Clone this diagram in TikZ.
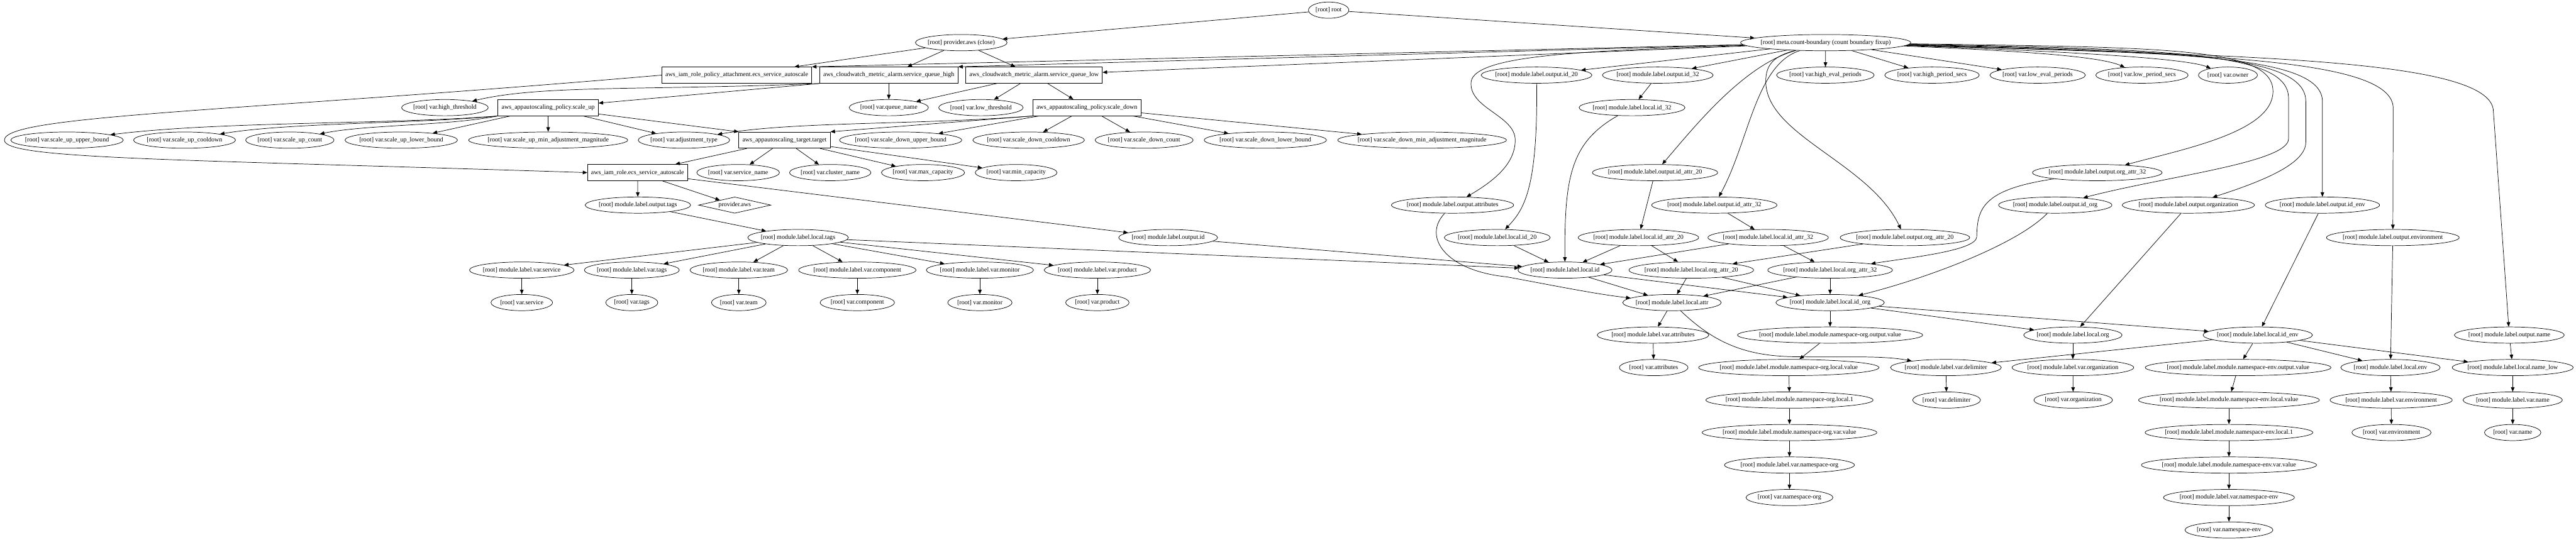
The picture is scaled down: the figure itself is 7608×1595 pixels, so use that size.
\documentclass[tikz,border=0pt]{standalone}
\usepackage{fontspec}
\setmainfont{Liberation Serif}
\usetikzlibrary{arrows.meta,shapes.geometric}
\newlength\gvW
\font\gvraw="Liberation Serif" at 14pt
\newcommand\gvfont{\fontsize{14}{16}\selectfont}
\newcommand\mkE[3]{%
  \settowidth{\gvW}{\gvraw #3}%
  \pgfmathsetlengthmacro\gvWW{1.25*\gvW+17pt}%
  \node[ell,minimum width=\gvWW] (#1) at (#2) {\makebox[0pt]{#3}};}
\tikzset{
  ell/.style={draw,ellipse,line width=1pt,inner sep=0pt,minimum height=36pt,font=\gvfont},
  bx/.style={draw,rectangle,line width=1pt,inner xsep=8pt,inner ysep=0pt,minimum height=36pt,font=\gvfont},
  dia/.style={draw,diamond,line width=1pt,inner sep=0pt,minimum width=160pt,minimum height=36pt,font=\gvfont},
  ed/.style={-{Triangle[length=10pt,width=8pt]},line width=1pt}}
\begin{document}
\begin{tikzpicture}[x=0.75pt,y=-0.75pt]
\useasboundingbox (0,0) rectangle (7608,1595);
% rank 0-1
\mkE{root}{3924,30}{[root] root}
\mkE{provclose}{2839,126}{[root] provider.aws (close)}
\mkE{meta}{5392,126}{[root] meta.count-boundary (count boundary fixup)}
% rank 2
\node[bx] (attach) at (2176,222) {aws\_iam\_role\_policy\_attachment.ecs\_service\_autoscale};
\node[bx] (high) at (2625,222) {aws\_cloudwatch\_metric\_alarm.service\_queue\_high};
\node[bx] (low) at (3054,222) {aws\_cloudwatch\_metric\_alarm.service\_queue\_low};
\mkE{oid20}{4538,222}{[root] module.label.output.id\_20}
\mkE{oid32}{4896,222}{[root] module.label.output.id\_32}
\mkE{hep}{5391,222}{[root] var.high\_eval\_periods}
\mkE{hps}{5706,222}{[root] var.high\_period\_secs}
\mkE{lep}{6018,222}{[root] var.low\_eval\_periods}
\mkE{lps}{6326,222}{[root] var.low\_period\_secs}
\mkE{owner}{6580,222}{[root] var.owner}
% rank 3
\mkE{hthr}{1314,318}{[root] var.high\_threshold}
\node[bx] (sup) at (1619,318) {aws\_appautoscaling\_policy.scale\_up};
\mkE{qname}{2625,318}{[root] var.queue\_name}
\mkE{lthr}{2897,318}{[root] var.low\_threshold}
\node[bx] (sdown) at (3210,318) {aws\_appautoscaling\_policy.scale\_down};
\mkE{lid32}{4820,318}{[root] module.label.local.id\_32}
% rank 4
\mkE{suub}{198,414}{[root] var.scale\_up\_upper\_bound}
\mkE{sucd}{545,414}{[root] var.scale\_up\_cooldown}
\mkE{sucnt}{856,414}{[root] var.scale\_up\_count}
\mkE{sulb}{1185,414}{[root] var.scale\_up\_lower\_bound}
\mkE{sumin}{1619,414}{[root] var.scale\_up\_min\_adjustment\_magnitude}
\mkE{adjt}{2020,414}{[root] var.adjustment\_type}
\node[bx] (target) at (2317,414) {aws\_appautoscaling\_target.target};
\mkE{sdub}{2660,414}{[root] var.scale\_down\_upper\_bound}
\mkE{sdcd}{3038,414}{[root] var.scale\_down\_cooldown}
\mkE{sdcnt}{3379,414}{[root] var.scale\_down\_count}
\mkE{sdlb}{3737,414}{[root] var.scale\_down\_lower\_bound}
\mkE{sdmin}{4200,414}{[root] var.scale\_down\_min\_adjustment\_magnitude}
% rank 5
\node[bx] (role) at (1883,510) {aws\_iam\_role.ecs\_service\_autoscale};
\mkE{svcname}{2180,510}{[root] var.service\_name}
\mkE{clname}{2452,510}{[root] var.cluster\_name}
\mkE{maxc}{2726,510}{[root] var.max\_capacity}
\mkE{minc}{3001,510}{[root] var.min\_capacity}
\mkE{oidattr20}{4888,510}{[root] module.label.output.id\_attr\_20}
\mkE{oorgattr32}{6194,510}{[root] module.label.output.org\_attr\_32}
% rank 6
\mkE{otags}{1884,606}{[root] module.label.output.tags}
\node[dia] (paws) at (2170,606) {\makebox[0pt]{provider.aws}};
\mkE{oattr}{4290,606}{[root] module.label.output.attributes}
\mkE{oidattr32}{5063,606}{[root] module.label.output.id\_attr\_32}
\mkE{oidorg}{6070,606}{[root] module.label.output.id\_org}
\mkE{oorg}{6463,606}{[root] module.label.output.organization}
\mkE{oidenv}{6859,606}{[root] module.label.output.id\_env}
% rank 7
\mkE{ltags}{2357,702}{[root] module.label.local.tags}
\mkE{oid}{3450,702}{[root] module.label.output.id}
\mkE{lid20}{4422,702}{[root] module.label.local.id\_20}
\mkE{lidattr20}{4839,702}{[root] module.label.local.id\_attr\_20}
\mkE{lidattr32}{5222,702}{[root] module.label.local.id\_attr\_32}
\mkE{oorgattr20}{5626,702}{[root] module.label.output.org\_attr\_20}
\mkE{oenv}{7067,702}{[root] module.label.output.environment}
% rank 8
\mkE{mvservice}{1541,798}{[root] module.label.var.service}
\mkE{mvtags}{1866,798}{[root] module.label.var.tags}
\mkE{mvteam}{2182,798}{[root] module.label.var.team}
\mkE{mvcomp}{2532,798}{[root] module.label.var.component}
\mkE{mvmon}{2894,798}{[root] module.label.var.monitor}
\mkE{mvprod}{3241,798}{[root] module.label.var.product}
\mkE{lid}{4622,798}{[root] module.label.local.id}
\mkE{lorgattr20}{4995,798}{[root] module.label.local.org\_attr\_20}
\mkE{lorgattr32}{5405,798}{[root] module.label.local.org\_attr\_32}
% rank 9
\mkE{vservice}{1541,894}{[root] var.service}
\mkE{vtags}{1866,894}{[root] var.tags}
\mkE{vteam}{2182,894}{[root] var.team}
\mkE{vcomp}{2532,894}{[root] var.component}
\mkE{vmon}{2894,894}{[root] var.monitor}
\mkE{vprod}{3241,894}{[root] var.product}
\mkE{lattr}{4938,894}{[root] module.label.local.attr}
\mkE{lidorg}{5405,894}{[root] module.label.local.id\_org}
% rank 10
\mkE{mvattr}{4882,990}{[root] module.label.var.attributes}
\mkE{nsoout}{5405,990}{[root] module.label.module.namespace-org.output.value}
\mkE{lorg}{6122,990}{[root] module.label.local.org}
\mkE{lidenv}{6668,990}{[root] module.label.local.id\_env}
\mkE{oname}{7411,990}{[root] module.label.output.name}
% rank 11
\mkE{vattr}{4884,1086}{[root] var.attributes}
\mkE{nsolv}{5283,1086}{[root] module.label.module.namespace-org.local.value}
\mkE{mvdelim}{5747,1086}{[root] module.label.var.delimiter}
\mkE{mvorg}{6122,1086}{[root] module.label.var.organization}
\mkE{nseout}{6610,1086}{[root] module.label.module.namespace-env.output.value}
\mkE{lenv}{7060,1086}{[root] module.label.local.env}
\mkE{lnamelow}{7421,1086}{[root] module.label.local.name\_low}
% rank 12
\mkE{nsol1}{5285,1182}{[root] module.label.module.namespace-org.local.1}
\mkE{vdelim}{5749,1182}{[root] var.delimiter}
\mkE{vorg}{6123,1182}{[root] var.organization}
\mkE{nselv}{6583,1182}{[root] module.label.module.namespace-env.local.value}
\mkE{mvenv}{7062,1182}{[root] module.label.var.environment}
\mkE{mvname}{7421,1182}{[root] module.label.var.name}
% rank 13
\mkE{nsovv}{5285,1278}{[root] module.label.module.namespace-org.var.value}
\mkE{nsel1}{6583,1278}{[root] module.label.module.namespace-env.local.1}
\mkE{venv}{7063,1278}{[root] var.environment}
\mkE{vname}{7421,1278}{[root] var.name}
% rank 14-16
\mkE{mvnso}{5285,1374}{[root] module.label.var.namespace-org}
\mkE{nsevv}{6583,1374}{[root] module.label.module.namespace-env.var.value}
\mkE{vnso}{5285,1470}{[root] var.namespace-org}
\mkE{mvnse}{6583,1470}{[root] module.label.var.namespace-env}
\mkE{vnse}{6583,1566}{[root] var.namespace-env}

% ---------- edges ----------
\draw[ed] (root) -- (provclose);
\draw[ed] (root) -- (meta);
\draw[ed] (provclose) -- (attach);
\draw[ed] (provclose) -- (high);
\draw[ed] (provclose) -- (low);
\draw[ed] (meta) -- (attach.north east);
\draw[ed] (meta) -- (high.north east);
\draw[ed] (meta) -- (low);
\draw[ed] (meta) -- (oid20);
\draw[ed] (meta) -- (oid32);
\draw[ed] (meta) -- (hep);
\draw[ed] (meta) -- (hps);
\draw[ed] (meta) -- (lep);
\draw[ed] (meta) .. controls (5950,150) and (6200,165) .. (lps);
\draw[ed] (meta) .. controls (6050,150) and (6450,170) .. (owner);
\draw[ed] (meta) .. controls (4700,150) and (4360,160) .. (4345,240) .. controls (4335,320) and (4475,340) .. (4475,414) .. controls (4475,480) and (4420,530) .. (oattr);
\draw[ed] (meta) .. controls (5150,190) and (5000,380) .. (oidattr20);
\draw[ed] (meta) .. controls (5185,190) and (5165,420) .. (oidattr32);
\draw[ed] (meta) .. controls (5240,165) and (5215,190) .. (5215,240) .. controls (5215,400) and (5520,480) .. (oorgattr20);
\draw[ed] (meta) .. controls (6400,140) and (6713,140) .. (6713,270) .. controls (6713,390) and (6450,440) .. (oorgattr32);
\draw[ed] (meta) .. controls (6420,145) and (6759,155) .. (6759,290) -- (6759,410) .. controls (6759,480) and (6400,520) .. (oidorg);
\draw[ed] (meta) .. controls (6440,150) and (6810,160) .. (6810,300) -- (6810,420) .. controls (6810,480) and (6700,530) .. (oorg);
\draw[ed] (meta) .. controls (6460,155) and (6859,165) .. (6859,300) -- (oidenv);
\draw[ed] (meta) .. controls (6500,160) and (7068,170) .. (7068,320) -- (oenv);
\draw[ed] (meta) .. controls (6600,165) and (7364,170) .. (7364,330) -- (oname);

\draw[ed] (attach.west) .. controls (700,330) and (13,340) .. (13,414) .. controls (13,470) and (500,470) .. (role.west);
\draw[ed] (high.south west) .. controls (1900,268) and (1600,250) .. (hthr);
\draw[ed] (high.south west) -- (sup);
\draw[ed] (high) -- (qname);
\draw[ed] (low) -- (qname);
\draw[ed] (low) -- (lthr);
\draw[ed] (low) -- (sdown);

\draw[ed] (sup.south west) .. controls (1150,368) and (650,358) .. (suub);
\draw[ed] (sup.south west) .. controls (1250,365) and (850,362) .. (sucd);
\draw[ed] (sup.south west) .. controls (1320,372) and (1080,368) .. (sucnt);
\draw[ed] (sup) -- (sulb);
\draw[ed] (sup) -- (sumin);
\draw[ed] (sup) -- (adjt);
\draw[ed] (sup) -- (target.north west);

\draw[ed] (sdown.south west) .. controls (2700,370) and (2350,358) .. (adjt);
\draw[ed] (sdown.south west) -- (target.north east);
\draw[ed] (sdown) -- (sdub);
\draw[ed] (sdown) -- (sdcd);
\draw[ed] (sdown) -- (sdcnt);
\draw[ed] (sdown) -- (sdlb);
\draw[ed] (sdown) -- (sdmin);

\draw[ed] (target) -- (role);
\draw[ed] (target) -- (svcname);
\draw[ed] (target) -- (clname);
\draw[ed] (target) -- (maxc);
\draw[ed] (target) -- (minc);

\draw[ed] (role) -- (otags);
\draw[ed] (role) -- (paws);
\draw[ed] (role) -- (oid);
\draw[ed] (otags) -- (ltags);
\draw[ed] (ltags) -- (mvservice);
\draw[ed] (ltags) -- (mvtags);
\draw[ed] (ltags) -- (mvteam);
\draw[ed] (ltags) -- (mvcomp);
\draw[ed] (ltags) -- (mvmon);
\draw[ed] (ltags) -- (mvprod);
\draw[ed] (ltags) -- (lid);
\draw[ed] (mvservice) -- (vservice);
\draw[ed] (mvtags) -- (vtags);
\draw[ed] (mvteam) -- (vteam);
\draw[ed] (mvcomp) -- (vcomp);
\draw[ed] (mvmon) -- (vmon);
\draw[ed] (mvprod) -- (vprod);

\draw[ed] (oid) -- (lid);
\draw[ed] (oid20) .. controls (4542,560) and (4500,620) .. (lid20);
\draw[ed] (oid32) -- (lid32);
\draw[ed] (lid32) .. controls (4640,420) and (4620,520) .. (lid);
\draw[ed] (lid20) -- (lid);
\draw[ed] (oidattr20) -- (lidattr20);
\draw[ed] (oidattr32) -- (lidattr32);
\draw[ed] (lidattr20) -- (lid);
\draw[ed] (lidattr20) -- (lorgattr20);
\draw[ed] (lidattr32) -- (lid);
\draw[ed] (lidattr32) -- (lorgattr32);
\draw[ed] (oorgattr20) -- (lorgattr20);
\draw[ed] (oorgattr32) .. controls (5850,560) and (5840,620) .. (5838,700) .. controls (5836,740) and (5650,760) .. (lorgattr32);
\draw[ed] (oattr) .. controls (4200,700) and (4270,800) .. (4450,818) .. controls (4600,846) and (4720,870) .. (lattr);
\draw[ed] (lid) -- (lattr);
\draw[ed] (lid) -- (lidorg);
\draw[ed] (lorgattr20) -- (lattr);
\draw[ed] (lorgattr20) -- (lidorg);
\draw[ed] (lorgattr32) -- (lattr);
\draw[ed] (lorgattr32) -- (lidorg);
\draw[ed] (lattr) -- (mvattr);
\draw[ed] (lattr) .. controls (5060,1010) and (5150,1052) .. (5300,1054) .. controls (5450,1056) and (5560,1050) .. (mvdelim);
\draw[ed] (mvattr) -- (vattr);
\draw[ed] (oidorg) .. controls (5960,720) and (5700,820) .. (lidorg);
\draw[ed] (lidorg) -- (nsoout);
\draw[ed] (lidorg) -- (lorg);
\draw[ed] (lidorg) -- (lidenv);
\draw[ed] (oorg) -- (lorg);
\draw[ed] (oidenv) -- (lidenv);
\draw[ed] (nsoout) -- (nsolv);
\draw[ed] (nsolv) -- (nsol1);
\draw[ed] (nsol1) -- (nsovv);
\draw[ed] (nsovv) -- (mvnso);
\draw[ed] (mvnso) -- (vnso);
\draw[ed] (lorg) -- (mvorg);
\draw[ed] (mvorg) -- (vorg);
\draw[ed] (lidenv) -- (mvdelim);
\draw[ed] (lidenv) -- (nseout);
\draw[ed] (lidenv) -- (lenv);
\draw[ed] (lidenv) -- (lnamelow);
\draw[ed] (mvdelim) -- (vdelim);
\draw[ed] (nseout) -- (nselv);
\draw[ed] (nselv) -- (nsel1);
\draw[ed] (nsel1) -- (nsevv);
\draw[ed] (nsevv) -- (mvnse);
\draw[ed] (mvnse) -- (vnse);
\draw[ed] (oenv) -- (lenv);
\draw[ed] (oname) -- (lnamelow);
\draw[ed] (lenv) -- (mvenv);
\draw[ed] (mvenv) -- (venv);
\draw[ed] (lnamelow) -- (mvname);
\draw[ed] (mvname) -- (vname);
\end{tikzpicture}
\end{document}
